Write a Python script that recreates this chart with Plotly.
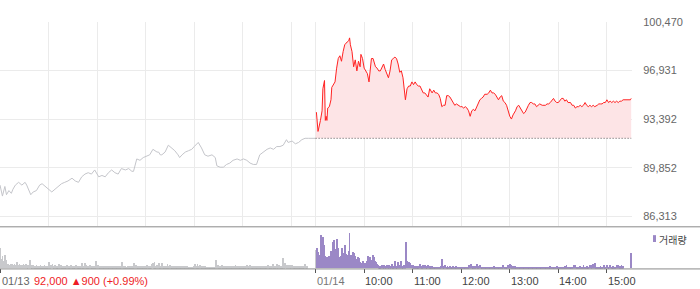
import plotly.graph_objects as go

# ---- price data (minutes from 01/13 09:00; 01/14 09:00 = 390) ----
d1_min = [0, 3, 6, 8, 11, 14, 16, 19, 23, 27,
          31, 33, 38, 41, 45, 49, 52, 56, 60, 64,
          68, 72, 76, 80, 84, 89, 93, 97, 101, 105,
          109, 113, 117, 122, 126, 130, 134, 138, 142, 146,
          150, 155, 159, 163, 165, 169, 173, 177, 181, 185,
          189, 192, 194, 196, 198, 200, 204, 208, 212, 216,
          220, 222, 225, 229, 233, 237, 240, 243, 245, 249,
          253, 257, 262, 266, 268, 272, 276, 280, 284, 288,
          293, 297, 301, 305, 309, 313, 317, 321, 325, 330,
          334, 338, 342, 346, 350, 354, 356, 361, 365, 369,
          373, 377, 381, 385, 389, 390]
d1_price = [88600, 87800, 88500, 87900, 88200, 88000, 88300, 88600, 88800, 88600,
            88800, 88600, 87900, 88100, 88200, 88600, 88700, 88500, 88300, 88100,
            88300, 88500, 88700, 88800, 88900, 89100, 88900, 88800, 89200, 89400,
            89500, 89400, 89700, 89200, 89300, 89200, 89500, 89700, 89500, 89400,
            89800, 89700, 89800, 89600, 89600, 90500, 90400, 90600, 90700, 90800,
            91200, 91100, 91000, 91000, 90800, 90800, 91000, 91500, 91300, 91100,
            90800, 90600, 90800, 91000, 91100, 91200, 91400, 91600, 91700, 91300,
            90800, 90700, 90800, 90600, 90000, 89900, 89900, 90100, 90200, 90400,
            90500, 90400, 90500, 90400, 90200, 90100, 90100, 90800, 91000, 91200,
            91300, 91200, 91400, 91400, 91500, 91900, 91700, 91800, 91600, 91700,
            91900, 92000, 92000, 92000, 92000, 92000]

d2_min = [391, 392, 393, 396, 398, 399, 400, 401, 402, 403,
          404, 405, 407, 409, 410, 412, 414, 416, 418, 420,
          422, 424, 426, 429, 431, 432, 433, 435, 437, 439,
          441, 443, 445, 446, 448, 450, 452, 454, 456, 457,
          459, 461, 464, 466, 468, 470, 472, 474, 476, 478,
          480, 482, 484, 486, 488, 490, 492, 494, 496, 498,
          501, 503, 505, 507, 509, 511, 513, 515, 517, 519,
          521, 523, 525, 527, 529, 531, 534, 536, 538, 540,
          542, 544, 546, 548, 550, 552, 554, 556, 558, 560,
          562, 564, 566, 569, 571, 573, 575, 577, 579, 581,
          583, 585, 587, 589, 591, 593, 595, 597, 599, 602,
          604, 606, 608, 610, 612, 614, 616, 618, 620, 622,
          624, 626, 628, 630, 632, 634, 637, 639, 641, 643,
          645, 647, 649, 651, 653, 655, 657, 659, 661, 663,
          665, 667, 670, 672, 674, 676, 678, 680, 682, 684,
          686, 688, 690, 692, 694, 696, 698, 700, 702, 705,
          707, 709, 711, 713, 715, 717, 719, 721, 723, 725,
          727, 729, 731, 733, 735, 738, 740, 742, 744, 746,
          748, 750, 752, 754, 756, 758, 760, 762, 764, 766,
          768, 770, 775, 777, 779, 780]
d2_price = [93900, 92600, 92500, 93300, 94000, 95600, 96100, 96200, 93300, 93600,
            93300, 94200, 94300, 94800, 95700, 95900, 96100, 97100, 97800, 98000,
            97600, 98300, 98800, 99000, 99100, 99300, 98800, 98300, 97200, 97700,
            96900, 97600, 97200, 98100, 97800, 97100, 96900, 96700, 96100, 96700,
            97800, 97800, 97200, 97100, 96900, 96900, 97100, 97400, 97000, 96700,
            96400, 96900, 97700, 97800, 97900, 97800, 97400, 96800, 96900, 96400,
            94800, 95600, 95800, 95800, 96100, 95900, 96100, 95900, 95800, 95800,
            95500, 95300, 95300, 95100, 95000, 95600, 95300, 95500, 95300, 95300,
            95200, 94900, 94300, 94400, 94400, 95100, 95100, 95000, 94800, 94500,
            94400, 94500, 94400, 94300, 94300, 94200, 94300, 94200, 94000, 93600,
            94000, 94100, 94000, 94300, 94600, 94800, 94900, 95000, 95200, 95200,
            95300, 95500, 95300, 95300, 95200, 95000, 94800, 95000, 95100, 94700,
            94600, 94400, 93900, 93600, 93400, 93700, 94000, 94300, 94400, 94200,
            94000, 93800, 93900, 94200, 94400, 94600, 94600, 94500, 94500, 94300,
            94400, 94500, 94400, 94400, 94400, 94500, 94500, 94600, 94800, 94900,
            94700, 94600, 94600, 94800, 94900, 94900, 94700, 94800, 94600, 94600,
            94400, 94400, 94200, 94300, 94300, 94400, 94300, 94400, 94600, 94400,
            94300, 94400, 94300, 94400, 94300, 94400, 94500, 94500, 94500, 94600,
            94600, 94800, 94600, 94700, 94600, 94700, 94600, 94700, 94600, 94700,
            94700, 94800, 94800, 94800, 94800, 94900]

prev_close = 92000
prev_close_min = [390, 780]

# ---- volume (thousand shares), per minute ----
vol1_start = 0          # 01/13 09:00 .. 15:19
vol1 = [21, 9, 9, 12, 7, 7, 13, 8, 5, 3, 4, 3, 3, 4, 3, 4, 3, 3, 4, 3,
        3, 6, 3, 3, 4, 3, 3, 3, 3, 4, 3, 3, 4, 3, 2, 3, 3, 8, 3, 2,
        2, 3, 2, 2, 2, 3, 2, 2, 2, 2, 3, 2, 2, 2, 2, 3, 2, 2, 2, 2,
        3, 6, 2, 3, 3, 4, 2, 2, 3, 2, 2, 2, 2, 4, 2, 3, 2, 2, 2, 2,
        2, 2, 2, 3, 2, 2, 2, 2, 3, 2, 2, 2, 2, 2, 3, 2, 2, 2, 2, 2,
        2, 5, 2, 2, 2, 5, 2, 3, 2, 2, 2, 3, 2, 2, 2, 2, 2, 2, 2, 7,
        2, 3, 2, 2, 1, 2, 2, 2, 1, 2, 2, 2, 2, 1, 2, 2, 2, 1, 2, 2,
        2, 2, 1, 2, 2, 2, 2, 2, 1, 2, 2, 6, 1, 2, 1, 2, 1, 1, 2, 1,
        2, 1, 2, 1, 2, 2, 5, 2, 3, 2, 2, 2, 2, 2, 2, 2, 2, 2, 2, 2,
        2, 2, 3, 2, 2, 2, 2, 2, 4, 5, 2, 6, 2, 2, 3, 2, 5, 2, 2, 2,
        5, 2, 2, 2, 2, 2, 2, 4, 2, 2, 3, 2, 2, 2, 2, 2, 2, 2, 2, 2,
        2, 2, 2, 2, 2, 2, 2, 2, 2, 2, 2, 2, 1, 1, 1, 1, 1, 1, 1, 2,
        2, 4, 2, 2, 4, 2, 2, 3, 2, 2, 2, 2, 2, 2, 2, 1, 1, 1, 1, 1,
        1, 1, 1, 1, 1, 1, 1, 8, 2, 3, 2, 2, 2, 2, 3, 2, 2, 2, 2, 2,
        2, 2, 2, 2, 2, 2, 2, 2, 2, 2, 2, 3, 2, 2, 2, 2, 2, 2, 2, 2,
        2, 2, 2, 2, 2, 3, 2, 2, 2, 3, 2, 2, 2, 2, 2, 2, 2, 2, 2, 2,
        2, 2, 2, 2, 2, 2, 2, 2, 2, 2, 2, 3, 2, 2, 2, 2, 2, 4, 2, 2,
        2, 2, 4, 2, 2, 3, 2, 2, 2, 2, 10, 2, 5, 3, 2, 3, 2, 3, 2, 3,
        2, 3, 2, 2, 2, 2, 2, 2, 2, 2, 2, 2, 2, 2, 2, 2, 2, 4, 2, 2]
vol1_close_min = 390
vol1_close = 19

vol2_start = 391        # 01/14 09:01 .. 15:20
vol2 = [14, 21, 16, 12, 13, 20, 34, 26, 32, 24, 19, 12, 9, 11, 8, 6, 12, 10, 17, 12,
        27, 17, 29, 14, 20, 30, 16, 21, 11, 9, 12, 17, 21, 15, 10, 24, 16, 14, 13, 10,
        17, 36, 12, 13, 9, 16, 14, 15, 12, 9, 8, 11, 7, 10, 6, 5, 4, 5, 7, 5,
        4, 5, 7, 4, 12, 6, 11, 5, 8, 7, 13, 11, 6, 7, 6, 4, 3, 2, 2, 2,
        2, 3, 2, 2, 3, 2, 2, 3, 2, 2, 3, 2, 2, 4, 2, 2, 2, 7, 2, 2,
        2, 6, 2, 3, 2, 7, 2, 2, 3, 2, 4, 27, 7, 6, 4, 6, 5, 3, 3, 2,
        3, 2, 2, 2, 2, 2, 2, 2, 4, 2, 2, 2, 3, 2, 3, 2, 1, 2, 3, 2,
        2, 2, 1, 2, 1, 1, 1, 1, 1, 1, 1, 1, 1, 1, 2, 9, 2, 2, 1, 3,
        1, 1, 2, 1, 1, 2, 1, 1, 1, 2, 1, 1, 1, 2, 1, 1, 1, 1, 1, 1,
        1, 1, 1, 1, 1, 1, 1, 1, 2, 3, 1, 4, 1, 1, 2, 1, 2, 1, 4, 1,
        2, 1, 3, 1, 1, 1, 1, 1, 1, 1, 1, 1, 1, 1, 1, 1, 1, 1, 1, 2,
        1, 1, 1, 1, 1, 1, 1, 1, 1, 1, 1, 3, 1, 1, 1, 1, 1, 3, 2, 4,
        2, 3, 2, 1, 2, 1, 2, 1, 1, 1, 1, 1, 1, 1, 1, 1, 1, 1, 1, 1,
        1, 1, 1, 1, 1, 1, 1, 1, 1, 1, 1, 1, 1, 1, 1, 1, 1, 1, 1, 1,
        1, 1, 1, 1, 1, 1, 1, 1, 1, 2, 1, 1, 1, 1, 1, 1, 1, 2, 1, 1,
        1, 1, 1, 1, 1, 1, 1, 2, 1, 3, 1, 1, 1, 1, 1, 1, 1, 1, 3, 1,
        3, 1, 1, 1, 1, 1, 2, 1, 1, 1, 3, 1, 1, 1, 2, 1, 1, 1, 3, 1,
        3, 1, 4, 1, 5, 1, 1, 1, 1, 1, 1, 2, 1, 1, 1, 3, 1, 1, 1, 3,
        1, 1, 1, 3, 1, 1, 1, 2, 1, 1, 1, 3, 1, 3, 1, 2, 1, 3, 2, 2]
vol2_close_min = 780
vol2_close = 15

# ---- axes labels ----
grid_min = [0, 60, 120, 180, 240, 300, 360, 390, 450, 510, 570, 630, 690, 750]
x_tick_min = [390, 450, 510, 570, 630, 690, 750]
x_tick_text = ["01/14", "10:00", "11:00", "12:00", "13:00", "14:00", "15:00"]
y_ticks = [86313, 89852, 93392, 96931, 100470]
day1_label = "01/13"
day1_summary = "92,000 ▲900 (+0.99%)"
legend_label = "거래량"

W, H = 700, 289
FONT = "Liberation Sans, Arial, sans-serif"
GRID = "#ebebeb"
RED = "#ff2222"
PURPLE = "#9b88c6"
GRAYVOL = "#c8c9cc"

def py(p):  # pixel row -> paper y
    return 1 - p / H

xdom = [0, 632 / W]

fig = go.Figure()
fig.add_trace(go.Scatter(x=d1_min, y=d1_price, mode="lines",
                         line=dict(color="#c4c5ca", width=1), hoverinfo="skip"))
fig.add_trace(go.Scatter(x=prev_close_min, y=[prev_close] * len(prev_close_min), mode="lines",
                         line=dict(color="#555555", width=1, dash="1px,2px"), hoverinfo="skip"))
fig.add_trace(go.Scatter(x=d2_min, y=d2_price, mode="lines",
                         line=dict(color=RED, width=1), fill="tonexty",
                         fillcolor="#fde4e6", hoverinfo="skip"))

fig.add_trace(go.Bar(x=[vol1_start + i for i in range(len(vol1))] + [vol1_close_min],
                     y=vol1 + [vol1_close], width=1.0,
                     marker=dict(color=GRAYVOL, line=dict(width=0)),
                     xaxis="x2", yaxis="y2", hoverinfo="skip"))
fig.add_trace(go.Bar(x=[vol2_start + i for i in range(len(vol2))] + [vol2_close_min],
                     y=vol2 + [vol2_close], width=1.0,
                     marker=dict(color=PURPLE, line=dict(width=0)),
                     xaxis="x2", yaxis="y2", hoverinfo="skip"))

annotations = []
annotations.append(dict(x=0, y=py(280.5), xref="x2", yref="paper", text=day1_label,
                        xanchor="left", yanchor="middle", showarrow=False,
                        font=dict(family=FONT, size=11, color="#666666")))
annotations.append(dict(x=0, y=py(280.5), xref="x2", yref="paper", text=day1_summary,
                        xanchor="left", yanchor="middle", showarrow=False, xshift=32,
                        font=dict(family=FONT, size=11, color="#ee1c25")))
for v, t in zip(x_tick_min, x_tick_text):
    annotations.append(dict(x=v, y=py(280.5), xref="x2", yref="paper", text=t,
                            xanchor="left", yanchor="middle", showarrow=False, xshift=-1,
                            font=dict(family=FONT, size=11,
                                      color="#777777" if t == "01/14" else "#444444")))
annotations.append(dict(x=657 / W, y=py(238), xref="paper", yref="paper", text=legend_label,
                        xanchor="left", yanchor="middle", showarrow=False,
                        font=dict(family="Noto Sans CJK KR", size=10, color="#444444")))

shapes = [
    dict(type="line", xref="paper", yref="paper", x0=0, x1=1, y0=py(225.5), y1=py(225.5),
         line=dict(color="#8a8a8a", width=1)),
    dict(type="line", xref="paper", yref="paper", x0=0, x1=1, y0=py(268.5), y1=py(268.5),
         line=dict(color="#8a8a8a", width=1)),
    dict(type="rect", xref="paper", yref="paper", x0=653 / W, x1=656 / W,
         y0=py(241), y1=py(234), line=dict(width=0), fillcolor=PURPLE),
]

fig.update_layout(
    width=W, height=H, margin=dict(l=0, r=0, t=0, b=0),
    paper_bgcolor="white", plot_bgcolor="white", showlegend=False,
    annotations=annotations, shapes=shapes,
    xaxis=dict(domain=xdom, range=[0, 781], tickmode="array", tickvals=grid_min,
               showticklabels=False, showgrid=True, gridcolor=GRID, gridwidth=1,
               zeroline=False, showline=False, ticks="", anchor="y"),
    yaxis=dict(domain=[py(225), py(16)], range=[85602, 100478], side="right",
               tickmode="array", tickvals=y_ticks, ticktext=[f"{v:,}" for v in y_ticks],
               showgrid=True, gridcolor=GRID, gridwidth=1, zeroline=False, showline=False,
               ticks="outside", ticklen=8, tickcolor="rgba(0,0,0,0)",
               tickfont=dict(family=FONT, size=11, color="#666666"), anchor="x"),
    xaxis2=dict(domain=xdom, range=[0, 781], tickmode="array", tickvals=[0] + x_tick_min,
                showticklabels=False, showgrid=False, zeroline=False, showline=False,
                ticks="outside", ticklen=4, tickcolor="#555555", tickwidth=1, anchor="y2"),
    yaxis2=dict(domain=[py(268), py(226)], range=[0, 42], showgrid=False,
                showticklabels=False, zeroline=False, showline=False, anchor="x2"),
    bargap=0,
)

fig.write_html("out.html")
